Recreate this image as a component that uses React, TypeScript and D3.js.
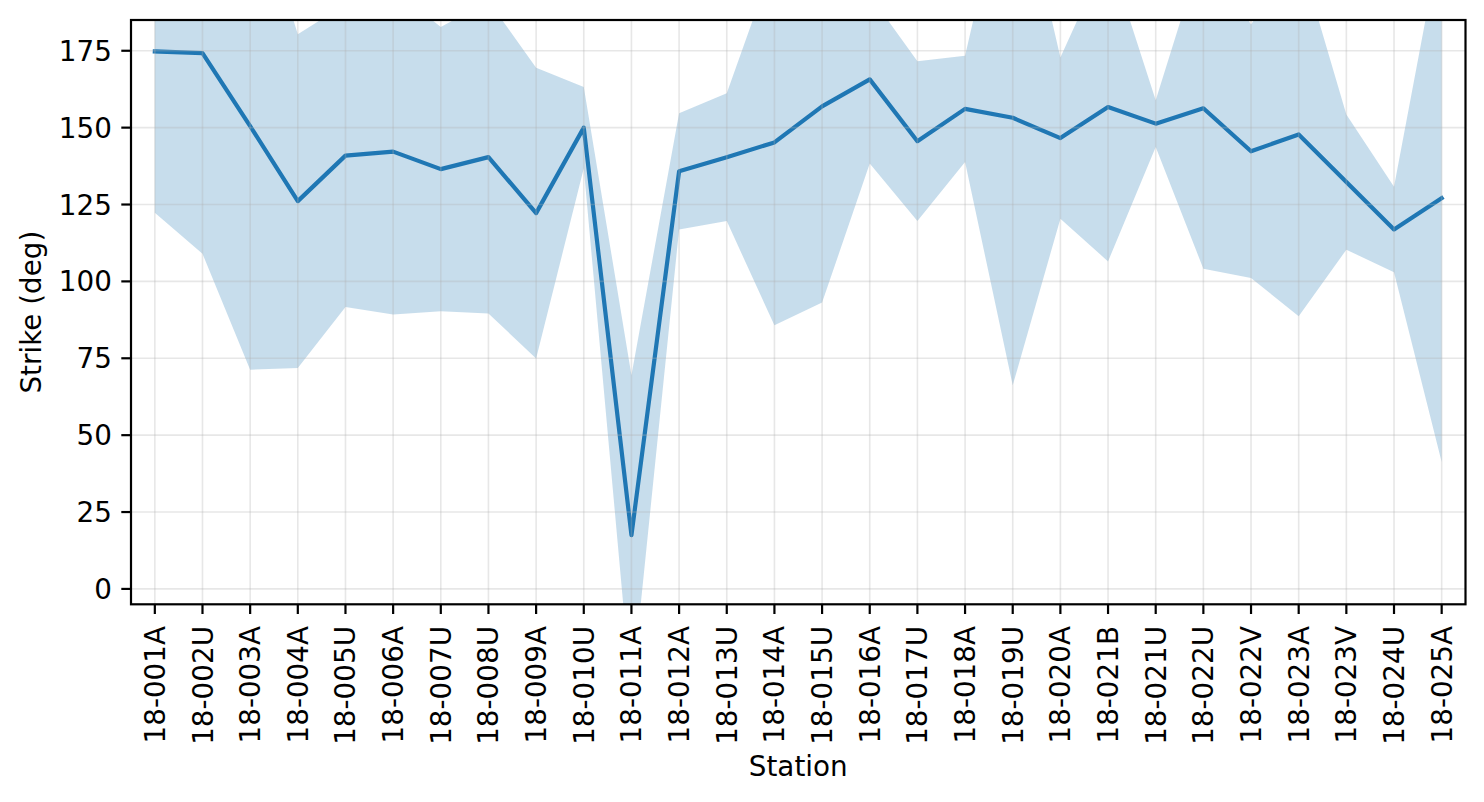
import { useEffect, useRef } from 'react'
import * as d3 from 'd3'

// station codes along the x axis
const stations = [
  '18-001A', '18-002U', '18-003A', '18-004A', '18-005U', '18-006A', '18-007U',
  '18-008U', '18-009A', '18-010U', '18-011A', '18-012A', '18-013U', '18-014A',
  '18-015U', '18-016A', '18-017U', '18-018A', '18-019U', '18-020A', '18-021B',
  '18-021U', '18-022U', '18-022V', '18-023A', '18-023V', '18-024U', '18-025A',
]

// mean strike per station (deg)
const strikeMean = [
  174.8, 174.2, 150.5, 126.1, 140.9, 142.2, 136.5,
  140.4, 122.2, 150.0, 17.5, 135.8, 140.4, 145.2,
  156.9, 165.7, 145.6, 156.1, 153.2, 146.6, 156.7,
  151.3, 156.3, 142.3, 147.8, 132.3, 116.9, 127.1,
]

// spread (± band half-width, deg)
const strikeStd = [
  52.5, 65.2, 79.2, 54.3, 49.2, 53.0, 46.2,
  50.8, 47.3, 13.2, 52.0, 18.9, 20.8, 59.5,
  63.8, 27.4, 26.0, 17.3, 87.0, 26.2, 50.2,
  7.6, 52.2, 41.2, 59.1, 22.0, 13.9, 85.8,
]

const yTicks = [0, 25, 50, 75, 100, 125, 150, 175]
const yDomain: [number, number] = [-5, 185]

const W = 1484
const H = 802
const BOX = { left: 131, right: 1465.5, top: 20, bottom: 604.3 }
const FONT = '"DejaVu Sans", sans-serif'
const FS = 27.8
const BLUE = '#1f77b4'

export default function App() {
  const svgRef = useRef<SVGSVGElement>(null)

  useEffect(() => {
    if (!svgRef.current) return
    const svg = d3.select(svgRef.current)
    svg.selectAll('*').remove()

    const x = d3.scaleLinear().domain([-0.5, stations.length - 0.5]).range([BOX.left, BOX.right])
    const y = d3.scaleLinear().domain(yDomain).range([BOX.bottom, BOX.top])
    const idx = stations.map((_, i) => i)

    svg.append('defs').append('clipPath').attr('id', 'plot-clip')
      .append('rect')
      .attr('x', BOX.left).attr('y', BOX.top)
      .attr('width', BOX.right - BOX.left).attr('height', BOX.bottom - BOX.top)

    const plot = svg.append('g').attr('clip-path', 'url(#plot-clip)')

    // mean ± spread band
    const band = d3.area<number>()
      .x(i => x(i))
      .y0(i => y(strikeMean[i] - strikeStd[i]))
      .y1(i => y(strikeMean[i] + strikeStd[i]))
    plot.append('path').attr('d', band(idx)).attr('fill', BLUE).attr('fill-opacity', 0.25)

    // grid
    const grid = svg.append('g').attr('stroke', '#b0b0b0').attr('stroke-opacity', 0.3).attr('stroke-width', 1.6)
    idx.forEach(i => {
      grid.append('line').attr('x1', x(i)).attr('x2', x(i)).attr('y1', BOX.top).attr('y2', BOX.bottom)
    })
    yTicks.forEach(t => {
      grid.append('line').attr('x1', BOX.left).attr('x2', BOX.right).attr('y1', y(t)).attr('y2', y(t))
    })

    // mean line
    const line = d3.line<number>().x(i => x(i)).y(i => y(strikeMean[i]))
    plot.append('path').attr('d', line(idx))
      .attr('fill', 'none').attr('stroke', BLUE).attr('stroke-width', 4.2)
      .attr('stroke-linejoin', 'round').attr('stroke-linecap', 'square')

    // frame
    svg.append('rect')
      .attr('x', BOX.left).attr('y', BOX.top)
      .attr('width', BOX.right - BOX.left).attr('height', BOX.bottom - BOX.top)
      .attr('fill', 'none').attr('stroke', '#000').attr('stroke-width', 2.2)

    const TL = 9.7
    // y ticks
    yTicks.forEach(t => {
      svg.append('line').attr('x1', BOX.left - TL).attr('x2', BOX.left)
        .attr('y1', y(t)).attr('y2', y(t)).attr('stroke', '#000').attr('stroke-width', 2.2)
      svg.append('text').attr('x', BOX.left - TL - 9.4).attr('y', y(t)).attr('dy', '0.36em')
        .attr('text-anchor', 'end').attr('font-family', FONT).attr('font-size', FS).attr('fill', '#000')
        .text(t)
    })

    // x ticks
    idx.forEach(i => {
      svg.append('line').attr('x1', x(i)).attr('x2', x(i))
        .attr('y1', BOX.bottom).attr('y2', BOX.bottom + TL).attr('stroke', '#000').attr('stroke-width', 2.2)
      svg.append('text')
        .attr('transform', `translate(${x(i)},${BOX.bottom + TL + 12}) rotate(-90)`)
        .attr('dy', '0.36em').attr('text-anchor', 'end')
        .attr('font-family', FONT).attr('font-size', FS).attr('fill', '#000')
        .text(stations[i])
    })

    // axis labels
    svg.append('text').attr('x', (BOX.left + BOX.right) / 2).attr('y', 776)
      .attr('text-anchor', 'middle').attr('font-family', FONT).attr('font-size', FS).attr('fill', '#000')
      .text('Station')
    svg.append('text')
      .attr('transform', `translate(41,${(BOX.top + BOX.bottom) / 2}) rotate(-90)`)
      .attr('text-anchor', 'middle').attr('font-family', FONT).attr('font-size', FS).attr('fill', '#000')
      .text('Strike (deg)')
  }, [])

  return (
    <div style={{ position: 'absolute', left: 0, top: 0, width: W, height: H, background: '#fff' }}>
      <svg ref={svgRef} width={W} height={H} style={{ display: 'block' }} />
    </div>
  )
}
